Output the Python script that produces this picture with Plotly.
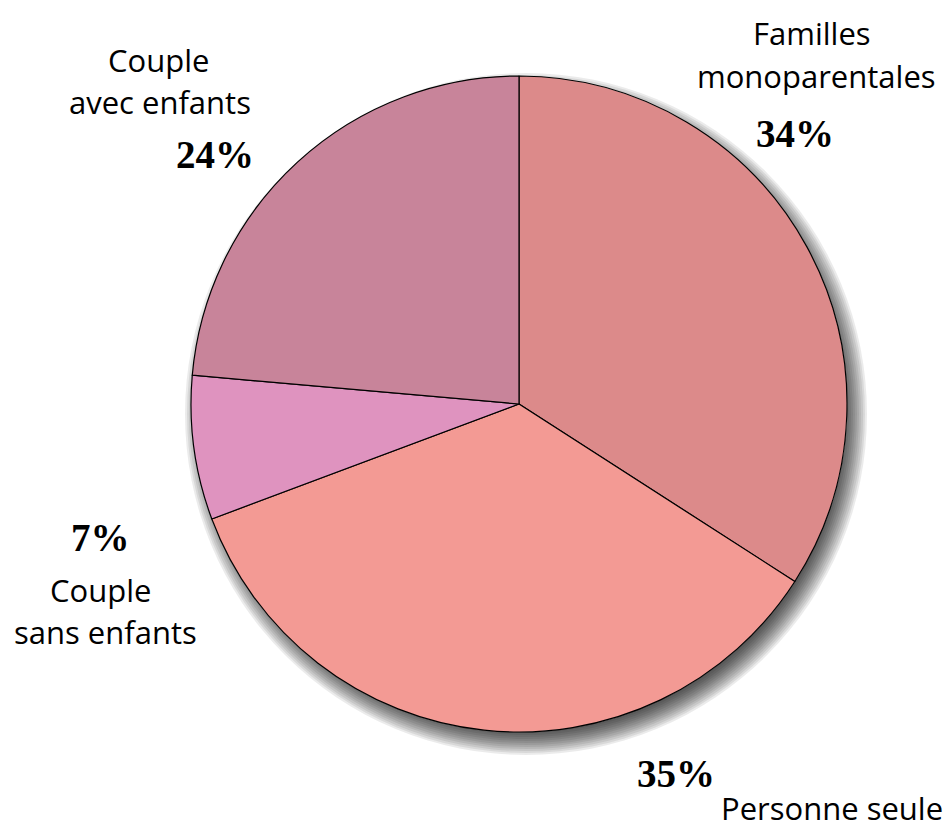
import plotly.graph_objects as go

labels = ["Familles monoparentales", "Personne seule", "Couple sans enfants", "Couple avec enfants"]
values = [34.1, 35.2, 7.1, 23.6]
pct_text = ["34%", "35%", "7%", "24%"]
colors = ["#DC8A8A", "#F39A94", "#DF93BF", "#C8849A"]
label_lines = [["Familles", "monoparentales"], ["Personne seule"], ["Couple", "sans enfants"], ["Couple", "avec enfants"]]

# page body has an 8px margin: the figure is drawn at (8, 8)
OFF = 8
W, H = 952 - OFF, 828 - OFF
cx, cy, r = 519 - OFF, 404 - OFF, 328

def dom(cxp, cyp, rad):
    return dict(x=[(cxp - rad) / W, (cxp + rad) / W], y=[1 - (cyp + rad) / H, 1 - (cyp - rad) / H])

fig = go.Figure()
# soft shadow layers
for dr in range(13, -13, -2):
    fig.add_trace(go.Pie(values=[1], labels=["s"], marker=dict(colors=["rgba(0,0,0,0.08)"], line=dict(width=0)),
                         textinfo="none", hoverinfo="skip", showlegend=False, sort=False,
                         domain=dom(cx + 7, cy + 10, r + dr)))
# white base to hide shadow under pie
fig.add_trace(go.Pie(values=[1], labels=["b"], marker=dict(colors=["white"], line=dict(width=0)),
                     textinfo="none", hoverinfo="skip", showlegend=False, domain=dom(cx, cy, r)))
fig.add_trace(go.Pie(labels=labels, values=values, sort=False, direction="clockwise", rotation=0,
                     marker=dict(colors=colors, line=dict(color="black", width=1.2)),
                     textinfo="none", hoverinfo="label", showlegend=False,
                     domain=dom(cx, cy, r)))

sans = dict(family="Open Sans", size=31, color="black")
serif = dict(family="Liberation Serif", size=39, color="black")

# label positions (pixel centers in the 952x828 window)
line_pos = [[(812, 33), (816, 76)], [(832, 808)], [(100, 590), (105, 632)], [(158, 60), (160, 102)]]
pct_pos = [(795, 133), (676, 773), (100, 537), (215, 155)]

for lines, poss in zip(label_lines, line_pos):
    for t, (x, y) in zip(lines, poss):
        fig.add_annotation(x=(x - OFF) / W, y=1 - (y - OFF) / H, xref="paper", yref="paper", text=t,
                           showarrow=False, font=sans, xanchor="center", yanchor="middle")
for t, (x, y) in zip(pct_text, pct_pos):
    fig.add_annotation(x=(x - OFF) / W, y=1 - (y - OFF) / H, xref="paper", yref="paper", text=f"<b>{t}</b>",
                       showarrow=False, font=serif, xanchor="center", yanchor="middle")

fig.update_layout(width=W, height=H, margin=dict(l=0, r=0, t=0, b=0),
                  paper_bgcolor="white", plot_bgcolor="white")
fig.write_html("out.html")
